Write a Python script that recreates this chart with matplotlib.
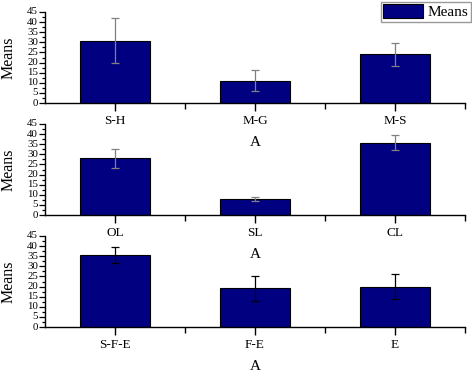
import matplotlib
matplotlib.use("Agg")
import matplotlib.pyplot as plt
from matplotlib.ticker import MultipleLocator, FixedLocator
from matplotlib.patches import Patch

plt.rcParams['font.family'] = ['Liberation Serif', 'DejaVu Serif']

cats1 = ["S-H", "M-G", "M-S"]
means1 = [30.8, 11.0, 24.0]
errs1 = [11.0, 5.3, 5.9]

cats2 = ["OL", "SL", "CL"]
means2 = [28.0, 8.0, 35.8]
errs2 = [4.7, 1.0, 3.7]

cats3 = ["S-F-E", "F-E", "E"]
means3 = [35.8, 19.1, 19.9]
errs3 = [4.0, 6.0, 6.3]

panels = [
    (cats1, means1, errs1, "#808080"),
    (cats2, means2, errs2, "#808080"),
    (cats3, means3, errs3, "#000000"),
]

fig = plt.figure(figsize=(4.72, 3.72), dpi=100)
W, H = 472, 372
left_px, right_px = 45, 465
tops = [12, 124, 236]
bottoms = [103, 215, 327]

for i, (cats, means, errs, ecol) in enumerate(panels):
    ax = fig.add_axes([left_px / W, 1 - bottoms[i] / H,
                       (right_px - left_px) / W, (bottoms[i] - tops[i]) / H])
    ax.set_facecolor('none')
    x = [k + 0.5 for k in range(len(cats))]
    ax.bar(x, means, width=0.5, color="#000080", edgecolor="#000000",
           linewidth=0.8, zorder=2)
    ax.errorbar(x, means, yerr=errs, fmt='none', ecolor=ecol,
                elinewidth=0.9, capsize=3, capthick=0.9, zorder=3)
    ax.set_xlim(0, 3)
    ax.set_ylim(0, 45)
    ax.spines['top'].set_visible(False)
    ax.spines['right'].set_visible(False)
    ax.spines['left'].set_linewidth(1.0)
    ax.spines['bottom'].set_linewidth(1.0)
    ax.set_xticks(x)
    ax.set_xticklabels(cats)
    ax.xaxis.set_minor_locator(FixedLocator([1, 2, 3]))
    ax.yaxis.set_major_locator(MultipleLocator(5))
    ax.yaxis.set_minor_locator(MultipleLocator(2.5))
    ax.tick_params(axis='x', which='major', direction='out', length=6,
                   width=1.0, labelsize=9.5, pad=2.5)
    ax.tick_params(axis='x', which='minor', direction='out', length=4, width=1.0)
    ax.tick_params(axis='y', which='major', direction='out', length=4,
                   width=0.9, labelsize=7.8, pad=1)
    ax.tick_params(axis='y', which='minor', direction='out', length=2.5, width=0.9)
    for lab in ax.get_yticklabels():
        lab.set_verticalalignment('center')
    ax.set_ylabel("Means", fontsize=11.5)
    ax.yaxis.set_label_coords(-0.068, 0.5)
    ax.set_xlabel("A", fontsize=11, labelpad=6.5)
    ax.xaxis.label.set_zorder(10)

leg_handles = [Patch(facecolor="#000080", edgecolor="#000000", linewidth=0.8, label="Means")]
fig.legend(handles=leg_handles, loc='upper right', bbox_to_anchor=(0.997, 0.995),
           fontsize=11, frameon=True, fancybox=False, edgecolor='#808080',
           handlelength=2.6, handleheight=1.0, borderpad=0.15, handletextpad=0.3,
           borderaxespad=0.0)

fig.savefig("out.png", dpi=100)
